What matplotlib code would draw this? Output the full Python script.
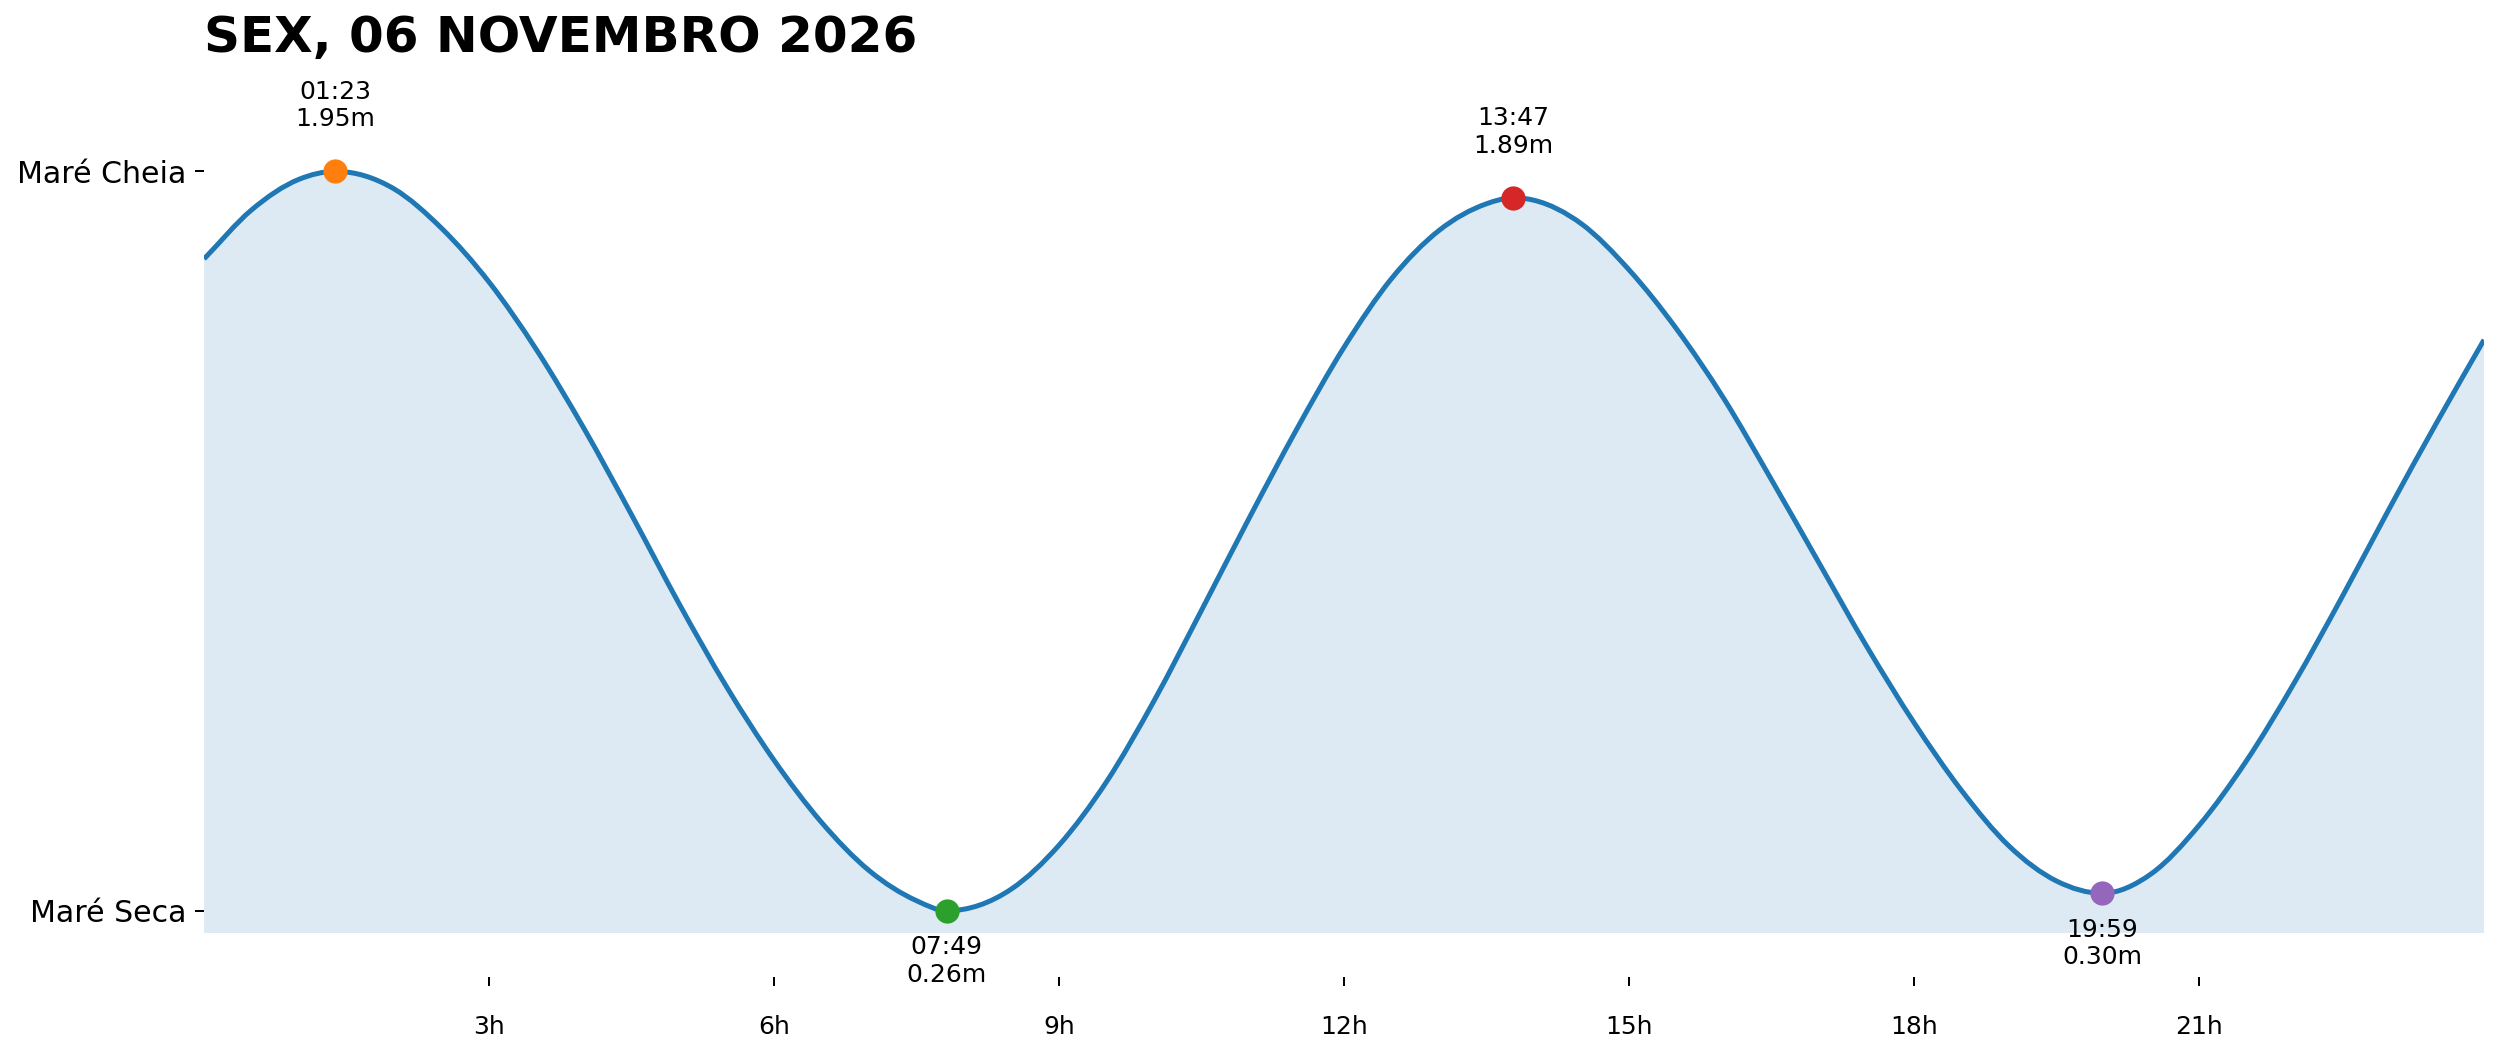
import matplotlib
matplotlib.use("Agg")
import matplotlib.pyplot as plt
from matplotlib.path import Path
from matplotlib.patches import PathPatch

# tide extremes (time, height in m)
ext_times = ["01:23", "07:49", "13:47", "19:59"]
ext_heights = [1.95, 0.26, 1.89, 0.30]
ext_kinds = ["high", "low", "high", "low"]
ext_colors = ["C1", "C2", "C3", "C4"]

# tide curve (hour of day, height in m)
curve_hours = [0, 0.5, 1, 1.383, 2, 2.5, 3, 3.5, 4, 4.5, 5, 5.5, 6, 6.5,
               7, 7.5, 7.817, 8.5, 9, 9.5, 10, 10.5, 11, 11.5, 12, 12.5,
               13, 13.5, 13.783, 14, 14.5, 15, 15.5, 16, 16.5, 17, 17.5, 18,
               18.5, 19, 19.5, 19.983, 20.5, 21, 21.5, 22, 22.5, 23, 23.5, 24]
curve_levels = [1.75, 1.862, 1.932, 1.95, 1.91, 1.82, 1.697, 1.542, 1.362,
                1.165, 0.962, 0.772, 0.604, 0.462, 0.352, 0.283, 0.26, 0.31,
                0.41, 0.555, 0.74, 0.947, 1.157, 1.36, 1.548, 1.705, 1.815,
                1.876, 1.89, 1.884, 1.83, 1.725, 1.59, 1.43, 1.245, 1.055,
                0.865, 0.69, 0.535, 0.408, 0.328, 0.30, 0.345, 0.455, 0.603,
                0.78, 0.975, 1.178, 1.375, 1.565]

xtick_hours = [3, 6, 9, 12, 15, 18, 21]
xtick_labels = ["3h", "6h", "9h", "12h", "15h", "18h", "21h"]
ytick_labels = ["Maré Seca", "Maré Cheia"]
title = "SEX, 06 NOVEMBRO 2026"

ext_hours = [int(t[:2]) + int(t[3:]) / 60 for t in ext_times]

# smooth bezier path through the read points (flat at the turning points)
xs, ys = curve_hours, curve_levels
n = len(xs)
slopes = []
for i in range(n):
    if i == 0:
        s = (ys[1] - ys[0]) / (xs[1] - xs[0])
    elif i == n - 1:
        s = (ys[-1] - ys[-2]) / (xs[-1] - xs[-2])
    elif (ys[i] - ys[i - 1]) * (ys[i + 1] - ys[i]) <= 0:
        s = 0
    else:
        h1, h2 = xs[i] - xs[i - 1], xs[i + 1] - xs[i]
        d1, d2 = (ys[i] - ys[i - 1]) / h1, (ys[i + 1] - ys[i]) / h2
        s = (h2 * d1 + h1 * d2) / (h1 + h2)
    slopes.append(s)

verts = [(xs[0], ys[0])]
codes = [Path.MOVETO]
for i in range(n - 1):
    dx = xs[i + 1] - xs[i]
    verts += [(xs[i] + dx / 3, ys[i] + slopes[i] * dx / 3),
              (xs[i + 1] - dx / 3, ys[i + 1] - slopes[i + 1] * dx / 3),
              (xs[i + 1], ys[i + 1])]
    codes += [Path.CURVE4] * 3

fig = plt.figure(figsize=(13.8945, 5.9), dpi=180)
ax = fig.add_axes([0.0816, 0.1218, 0.9116, 0.8198])

fill_verts = verts + [(xs[-1], 0), (xs[0], 0), verts[0]]
fill_codes = codes + [Path.LINETO, Path.LINETO, Path.CLOSEPOLY]
ax.add_patch(PathPatch(Path(fill_verts, fill_codes), facecolor="C0", alpha=0.15, lw=0))
ax.add_patch(PathPatch(Path(verts, codes), fill=False, edgecolor="C0", lw=2, zorder=3))

for h, v, kind, c, t in zip(ext_hours, ext_heights, ext_kinds, ext_colors, ext_times):
    ax.plot(h, v, "o", color=c, markersize=8.7, zorder=5)
    if kind == "high":
        ax.annotate(f"{t}\n{v:.2f}m", (h, v), xytext=(0, 16),
                    textcoords="offset points", ha="center", va="bottom", fontsize=10)
    else:
        ax.annotate(f"{t}\n{v:.2f}m", (h, v), xytext=(0, -9.7),
                    textcoords="offset points", ha="center", va="top", fontsize=10)

ax.set_xlim(0, 24)
ax.set_ylim(0.21, 2.2)
ax.set_xticks(xtick_hours)
ax.set_xticklabels(xtick_labels, fontsize=12)
ax.set_yticks([min(ext_heights), max(ext_heights)])
ax.set_yticklabels(ytick_labels, fontsize=12)
ax.tick_params(axis="x", pad=12)

for s in ["top", "right", "left", "bottom"]:
    ax.spines[s].set_visible(False)
ax.spines["bottom"].set_position(("outward", 17.6))

ax.set_title(title, loc="left", fontsize=20, fontweight="bold", pad=2.2)

fig.savefig("out.png", dpi=180)
